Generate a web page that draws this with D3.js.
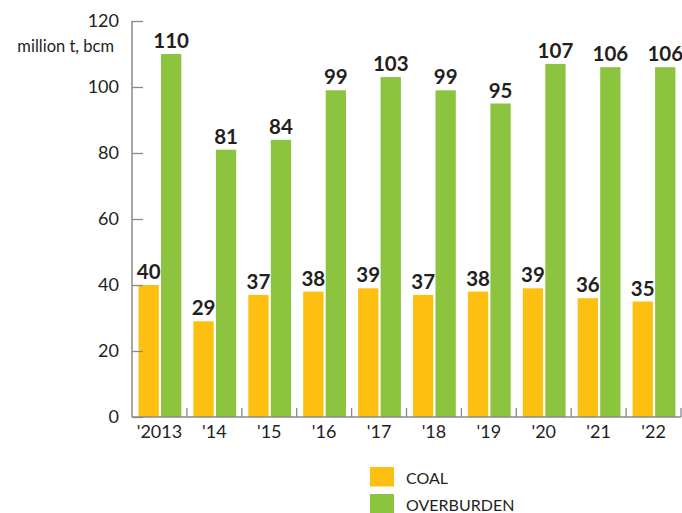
<!DOCTYPE html>
<html>
<head>
<meta charset="utf-8">
<script src="https://cdn.jsdelivr.net/npm/d3@7"></script>
<style>
  body { margin: 0; background: #fff; }
  svg { font-family: Lato, "Open Sans", sans-serif; }
</style>
</head>
<body>
<svg id="chart" width="682" height="513"></svg>
<script>
// data
const years = ["'2013", "'14", "'15", "'16", "'17", "'18", "'19", "'20", "'21", "'22"];
const coal = [40, 29, 37, 38, 39, 37, 38, 39, 36, 35];
const overburden = [110, 81, 84, 99, 103, 99, 95, 107, 106, 106];
const yTicks = [0, 20, 40, 60, 80, 100, 120];
const seriesNames = ["COAL", "OVERBURDEN"];
const colors = ["#fdc010", "#8cc43f"];

const svg = d3.select("#chart");
const textColor = "#231f20";
const axisColor = "#8a8a8a";

const x = d3.scaleBand().domain(years).range([132, 681]);
const y = d3.scaleLinear().domain([0, 120]).range([417, 21]);

// bar offsets inside each band
const barW = 20.3;
const offsets = [6.5, 29];

const series = [coal, overburden];
series.forEach((vals, si) => {
  const g = svg.append("g");
  g.selectAll("rect")
    .data(vals)
    .join("rect")
    .attr("x", (d, i) => x(years[i]) + offsets[si])
    .attr("y", d => y(d))
    .attr("width", barW)
    .attr("height", d => y(0) - y(d))
    .attr("fill", colors[si]);
  g.selectAll("text")
    .data(vals)
    .join("text")
    .attr("x", (d, i) => x(years[i]) + offsets[si] + barW / 2)
    .attr("y", d => y(d) - 6)
    .attr("text-anchor", "middle")
    .attr("font-size", 20.5)
    .attr("font-weight", "bold")
    .attr("fill", textColor)
    .text(d => d);
});

// y axis, ticks point inward
const yAxis = svg.append("g")
  .attr("transform", "translate(132,0)")
  .call(d3.axisRight(y).tickValues(yTicks).tickSize(11).tickFormat(""));
yAxis.select(".domain").remove();
yAxis.selectAll("line").attr("stroke", axisColor).attr("stroke-width", 1.3);
svg.append("line")
  .attr("x1", 132).attr("x2", 132)
  .attr("y1", y(120)).attr("y2", y(0))
  .attr("stroke", axisColor).attr("stroke-width", 1.5);

svg.append("g").selectAll("text")
  .data(yTicks)
  .join("text")
  .attr("x", 119)
  .attr("y", d => y(d))
  .attr("dy", "0.36em")
  .attr("text-anchor", "end")
  .attr("font-size", 18)
  .attr("fill", textColor)
  .text(d => d);

svg.append("text")
  .attr("x", 114)
  .attr("y", 52)
  .attr("text-anchor", "end")
  .attr("font-size", 16.5)
  .attr("fill", textColor)
  .text("million t, bcm");

// x axis
svg.append("line")
  .attr("x1", 132).attr("x2", 681)
  .attr("y1", y(0)).attr("y2", y(0))
  .attr("stroke", axisColor).attr("stroke-width", 1.5);
svg.append("g").selectAll("line")
  .data(years)
  .join("line")
  .attr("x1", d => x(d) + x.step())
  .attr("x2", d => x(d) + x.step())
  .attr("y1", y(0))
  .attr("y2", y(0) - 9)
  .attr("stroke", axisColor)
  .attr("stroke-width", 1.3);
svg.append("g").selectAll("text")
  .data(years)
  .join("text")
  .attr("x", d => x(d) + x.bandwidth() / 2)
  .attr("y", 438)
  .attr("text-anchor", "middle")
  .attr("font-size", 18)
  .attr("fill", textColor)
  .text(d => d);

// legend
const legend = svg.append("g").selectAll("g")
  .data(seriesNames)
  .join("g")
  .attr("transform", (d, i) => `translate(370,${467 + i * 27})`);
legend.append("rect")
  .attr("width", 24)
  .attr("height", 19.5)
  .attr("fill", (d, i) => colors[i]);
legend.append("text")
  .attr("x", 36)
  .attr("y", 17)
  .attr("font-size", 16)
  .attr("fill", textColor)
  .text(d => d);
</script>
</body>
</html>
